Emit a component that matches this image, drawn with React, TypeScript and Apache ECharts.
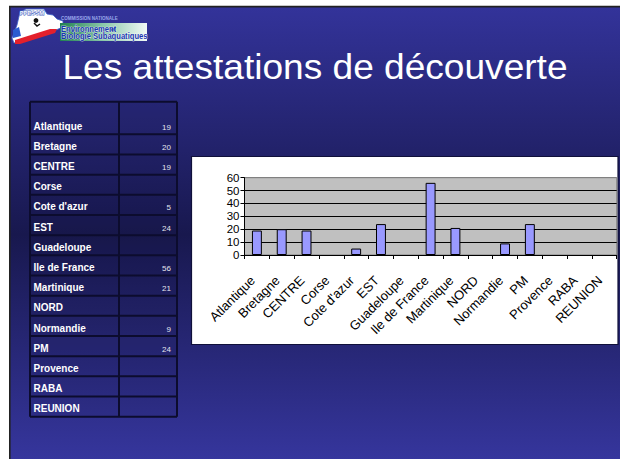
import React, { useEffect, useRef } from "react";
import * as echarts from "echarts";

const categories = [
  "Atlantique",
  "Bretagne",
  "CENTRE",
  "Corse",
  "Cote d'azur",
  "EST",
  "Guadeloupe",
  "Ile de France",
  "Martinique",
  "NORD",
  "Normandie",
  "PM",
  "Provence",
  "RABA",
  "REUNION",
];
const values: (number | null)[] = [19, 20, 19, null, 5, 24, null, 56, 21, null, 9, 24, null, null, null];
const yMin = 0;
const yMax = 60;
const yStep = 10;
const titleText = "Les attestations de découverte";
const logoTop = "COMMISSION NATIONALE";
const logoLine1 = "Environnement";
const logoLine1b = "et";
const logoLine2 = "Biologie Subaquatiques";
const logoMark = "FFESSM";

const FONT = '"Liberation Sans", Arial, Helvetica, sans-serif';

function txt(x: number, y: number, text: string, font: string, fill: string, align: string, extra: any = {}) {
  return {
    type: "text",
    x,
    y,
    z: 20,
    ...extra,
    style: {
      text,
      font,
      fill,
      textAlign: align,
      align,
      textVerticalAlign: "middle",
      verticalAlign: "middle",
      ...(extra.style || {}),
    },
  };
}

function tableGraphics() {
  const els: any[] = [];
  const x0 = 30,
    x1 = 119,
    x2 = 177;
  const top = 101.7,
    firstBottom = 134.3,
    rowH = 20.17;
  const bottoms = categories.map((_, i) => firstBottom + i * rowH);
  const bottom = bottoms[bottoms.length - 1];
  const ls = { stroke: "#0c0c2e", lineWidth: 2 };
  els.push({
    type: "rect",
    z: 4,
    shape: { x: x0, y: top, width: x2 - x0, height: bottom - top },
    style: { fill: "rgba(10,10,40,0.08)" },
  });
  [x0, x1, x2].forEach((x) =>
    els.push({ type: "line", z: 5, shape: { x1: x, y1: top, x2: x, y2: bottom }, style: ls })
  );
  [top, ...bottoms].forEach((y) =>
    els.push({ type: "line", z: 5, shape: { x1: x0, y1: y, x2: x2, y2: y }, style: ls })
  );
  categories.forEach((c, i) => {
    els.push(txt(33.5, bottoms[i] - 8, c, `bold 10px ${FONT}`, "#ffffff", "left"));
    if (values[i] != null) {
      els.push(txt(171, bottoms[i] - 7, String(values[i]), `8px ${FONT}`, "#e4e4ee", "right"));
    }
  });
  return els;
}

function logoGraphics() {
  const els: any[] = [];
  els.push({
    type: "polygon",
    z: 10,
    shape: {
      points: [
        [14, 33], [17, 25], [20, 12], [26, 9], [44, 9], [47, 14], [53, 15], [57, 19],
        [63, 21], [63, 27], [56, 30], [40, 36], [22, 42], [14, 43], [12, 38],
      ],
    },
    style: { fill: "#ffffff", stroke: "#3a5ec8", lineWidth: 0.8 },
  });
  els.push({
    type: "polygon",
    z: 11,
    shape: { points: [[13, 30], [19, 27], [21, 36], [13, 38]] },
    style: { fill: "#2a5bd0" },
  });
  els.push({
    type: "polygon",
    z: 11,
    shape: { points: [[15, 40], [50, 29], [57, 29], [55, 33], [20, 44], [15, 44]] },
    style: { fill: "#e3202c" },
  });
  els.push({ type: "circle", z: 12, shape: { cx: 36, cy: 20.5, r: 2.4 }, style: { fill: "#111" } });
  els.push({
    type: "polyline",
    z: 12,
    shape: { points: [[34, 23], [37, 26], [40, 24]] },
    style: { stroke: "#111", lineWidth: 1.5, fill: "none" },
  });
  els.push(txt(32, 12.5, logoMark, `bold 6px ${FONT}`, "#ffffff", "center", { style: { stroke: "#3355bb", lineWidth: 0.8 } }));
  els.push({
    type: "rect",
    z: 10,
    shape: { x: 60, y: 23, width: 87, height: 18 },
    style: {
      fill: {
        type: "linear",
        x: 0,
        y: 0,
        x2: 1,
        y2: 0,
        colorStops: [
          { offset: 0, color: "#1f7f50" },
          { offset: 0.5, color: "#8cc8aa" },
          { offset: 1, color: "#f2faf6" },
        ],
      },
    },
  });
  els.push(txt(61, 18.8, logoTop, `bold 4.5px ${FONT}`, "#9aa8ec", "left"));
  els.push(txt(61, 28.3, logoLine1, `bold 9.5px ${FONT}`, "#1a36b0", "left", { scaleX: 0.8, style: { stroke: "#ffffff", lineWidth: 0.7 } }));
  els.push(txt(111, 29, logoLine1b, `bold 5px ${FONT}`, "#1a36b0", "left"));
  els.push(txt(61, 36, logoLine2, `bold 9.5px ${FONT}`, "#1a36b0", "left", { scaleX: 0.8, style: { stroke: "#ffffff", lineWidth: 0.7 } }));
  return els;
}

function buildOption() {
  const graphics: any[] = [
    {
      type: "rect",
      z: -10,
      shape: { x: 9.8, y: 6.6, width: 614, height: 456 },
      style: {
        fill: {
          type: "linear",
          x: 0,
          y: 0,
          x2: 0,
          y2: 1,
          colorStops: [
            { offset: 0, color: "#33339a" },
            { offset: 0.5, color: "#18184e" },
            { offset: 1, color: "#36369e" },
          ],
        },
        stroke: "#222222",
        lineWidth: 1.6,
      },
    },
    {
      type: "rect",
      z: -5,
      shape: { x: 191.5, y: 156.5, width: 426.5, height: 188 },
      style: { fill: "#ffffff", stroke: "#10103a", lineWidth: 1.2 },
    },
    txt(315, 66.5, titleText, `35px ${FONT}`, "#ffffff", "center", { scaleX: 1.06 }),
    ...tableGraphics(),
    ...logoGraphics(),
  ];

  const splitColors = ["#000", "#000", "#000", "#000", "#000", "#000", "#808080"];

  return {
    animation: false,
    grid: {
      left: 244.5,
      top: 177.7,
      right: 3.3,
      bottom: 204,
      show: true,
      backgroundColor: "#c0c0c0",
      borderColor: "#808080",
      borderWidth: 1,
      containLabel: false,
      outerBoundsMode: "none",
    },
    xAxis: {
      type: "category",
      data: categories,
      boundaryGap: true,
      axisLine: { show: true, lineStyle: { color: "#000", width: 1 } },
      axisTick: { show: true, length: 4, interval: 0, alignWithLabel: false, lineStyle: { color: "#000" } },
      axisLabel: {
        show: true,
        interval: 0,
        rotate: 45,
        margin: 19,
        padding: [0, 6, 0, 0],
        fontSize: 13,
        fontFamily: FONT,
        color: "#000",
      },
      splitLine: { show: false },
    },
    yAxis: {
      type: "value",
      min: yMin,
      max: yMax,
      interval: yStep,
      axisLine: { show: true, lineStyle: { color: "#000", width: 1 } },
      axisTick: { show: true, length: 4, lineStyle: { color: "#000" } },
      axisLabel: { fontSize: 11.5, fontFamily: FONT, color: "#000", margin: 5 },
      splitLine: { show: true, lineStyle: { color: splitColors, width: 1 } },
    },
    series: [
      {
        type: "bar",
        data: values,
        barWidth: "40%",
        itemStyle: { color: "#9999ff", borderColor: "#000", borderWidth: 1 },
      },
    ],
    graphic: graphics,
  };
}

export default function App() {
  const ref = useRef<HTMLDivElement>(null);
  useEffect(() => {
    if (!ref.current) return;
    const chart = echarts.init(ref.current, null, { renderer: "svg" });
    chart.setOption(buildOption() as any);
    return () => chart.dispose();
  }, []);
  return (
    <div
      ref={ref}
      style={{ position: "absolute", left: 0, top: 0, width: 620, height: 459, background: "#ffffff" }}
    />
  );
}
